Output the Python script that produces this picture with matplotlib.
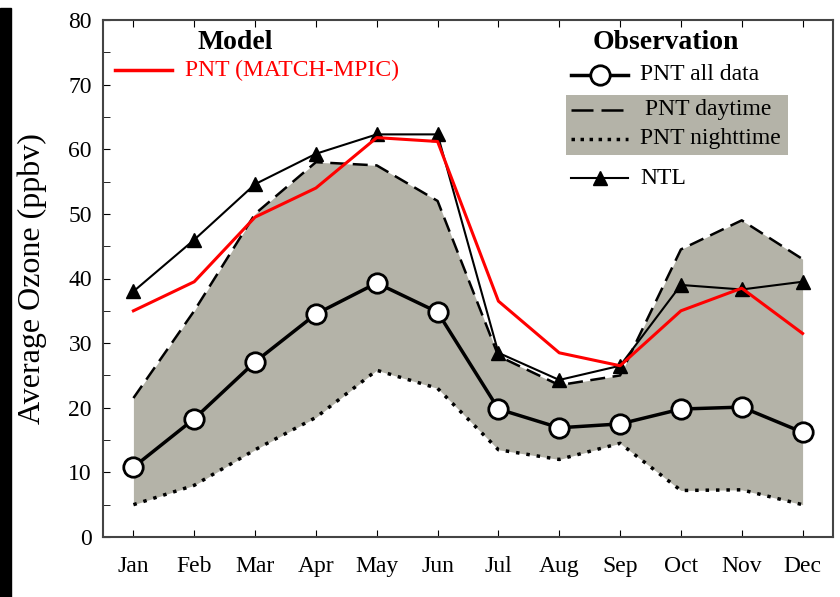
import matplotlib.pyplot as plt
from matplotlib.patches import Rectangle
from matplotlib.ticker import MultipleLocator

plt.rcParams['font.family'] = ['Liberation Serif', 'DejaVu Serif']

months = ['Jan', 'Feb', 'Mar', 'Apr', 'May', 'Jun',
          'Jul', 'Aug', 'Sep', 'Oct', 'Nov', 'Dec']
x = list(range(1, 13))

# observations (ppbv)
pnt_all = [10.8, 18.3, 27.1, 34.5, 39.3, 34.8, 19.8, 16.9, 17.5, 19.8, 20.1, 16.2]
pnt_day = [21.5, 35.0, 50.0, 58.0, 57.5, 52.0, 28.0, 23.5, 25.0, 44.5, 49.0, 43.0]
pnt_night = [5.0, 8.0, 13.5, 18.5, 25.8, 23.0, 13.5, 12.0, 14.5, 7.2, 7.3, 5.0]
ntl = [38.0, 46.0, 54.6, 59.3, 62.3, 62.3, 28.5, 24.3, 26.5, 39.0, 38.3, 39.5]
# model
model = [35.0, 39.5, 49.5, 54.0, 61.8, 61.2, 36.5, 28.5, 26.5, 35.0, 38.5, 31.5]

gray = '#b4b3a8'

fig = plt.figure(figsize=(8.4, 5.97), dpi=100)
ax = fig.add_axes([103/840, 60/597, 730/840, 517/597])

# black strip at left edge of the scanned figure
fig.patches.append(Rectangle((0, 0), 11/840, 589/597, transform=fig.transFigure,
                             color='black', zorder=0))

ax.fill_between(x, pnt_night, pnt_day, color=gray, lw=0)
ax.plot(x, pnt_day, color='black', ls=(0, (6, 3)), lw=1.8)
ax.plot(x, pnt_night, color='black', ls=(0, (1, 2)), lw=2.5)
ax.plot(x, ntl, color='black', lw=1.5, marker='^', ms=10)
ax.plot(x, model, color='red', lw=2.2)
ax.plot(x, pnt_all, color='black', lw=2.5, marker='o', ms=14,
        mfc='white', mec='black', mew=2)

ax.set_xlim(0.5, 12.5)
ax.set_ylim(0, 80)
ax.set_xticks(x)
ax.set_xticklabels(months, fontsize=17)
ax.yaxis.set_major_locator(MultipleLocator(10))
ax.yaxis.set_minor_locator(MultipleLocator(5))
ax.tick_params(axis='x', direction='in', top=True, bottom=True, length=5, pad=14)
ax.tick_params(axis='y', which='both', direction='in', right=False, length=5,
               labelsize=17, pad=8)
ax.set_ylabel('Average Ozone (ppbv)', fontsize=23)
ax.yaxis.set_label_coords(-0.077, 0.5)
for s in ax.spines.values():
    s.set_linewidth(1.5)
    s.set_color('#444444')

# hand-made legend
T = ax.transAxes
ax.text(0.181, 0.957, 'Model', transform=T, fontsize=20, weight='bold',
        ha='center', va='center')
ax.plot([0.016, 0.095], [0.903, 0.903], transform=T, color='red', lw=2.5)
ax.text(0.112, 0.903, 'PNT (MATCH-MPIC)', transform=T, fontsize=17,
        color='red', va='center')

ax.text(0.771, 0.957, 'Observation', transform=T, fontsize=20, weight='bold',
        ha='center', va='center')
ax.add_patch(Rectangle((0.634, 0.739), 0.304, 0.116, transform=T,
                       color=gray, lw=0))
ax.plot([0.641, 0.719], [0.894, 0.894], transform=T, color='black', lw=2.5)
ax.plot([0.681], [0.894], transform=T, marker='o', ms=14, mfc='white',
        mec='black', mew=2)
ax.text(0.736, 0.894, 'PNT all data', transform=T, fontsize=17, va='center')
ax.plot([0.641, 0.713], [0.826, 0.826], transform=T, color='black',
        ls=(0, (8.8, 3.2)), lw=1.8)
ax.text(0.742, 0.826, 'PNT daytime', transform=T, fontsize=17, va='center')
ax.plot([0.641, 0.719], [0.770, 0.770], transform=T, color='black',
        ls=(0, (1, 1.6)), lw=2.5)
ax.text(0.736, 0.770, 'PNT nighttime', transform=T, fontsize=17, va='center')
ax.plot([0.641, 0.719], [0.694, 0.694], transform=T, color='black', lw=1.5)
ax.plot([0.681], [0.694], transform=T, marker='^', ms=10, color='black')
ax.text(0.736, 0.694, 'NTL', transform=T, fontsize=17, va='center')

fig.savefig('out.png', dpi=100)
